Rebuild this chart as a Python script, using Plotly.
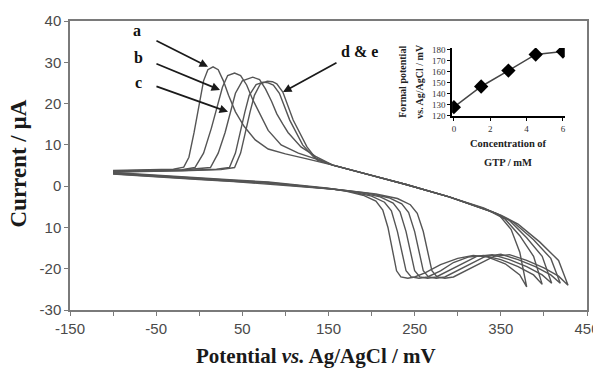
import plotly.graph_objects as go

# ---- main CV curves (potential mV, current uA) ----
a_x = [-100, -60, -30, -18, -12, -6, 0, 5, 10, 16, 22, 28, 34, 42, 52, 65, 80, 100, 125, 155, 200, 240, 290, 330, 348, 362, 372, 380,
       372, 355, 335, 318, 300, 280, 262, 250, 242, 234, 229, 225, 219, 213, 205, 190, 170, 150, 120, 80, 40, 0, -50, -100]
a_y = [3.8, 3.9, 4.1, 4.6, 7, 13, 20, 25.5, 28.2, 28.9, 28.2, 25.5, 22, 18, 14.5, 11.2, 9, 7.8, 6.6, 5.1, 2.6, 0.4, -2.6, -5.3, -7, -10.5, -16, -24.4,
       -21.5, -18.8, -17.2, -16.8, -17.5, -19, -21, -22, -22.3, -22, -20.5, -16, -10, -5.8, -3.6, -2.2, -1.2, -0.5, 0.2, 1.0, 1.5, 2.0, 2.6, 3.3]

b_x = [-100, -60, -20, -5, 5, 14, 22, 27, 33, 41, 48, 55, 62, 70, 80, 95, 115, 135, 155, 200, 240, 290, 335, 355, 372, 388, 398,
       388, 370, 350, 330, 312, 295, 280, 265, 255, 246, 240, 236, 230, 223, 215, 200, 175, 150, 120, 80, 40, 0, -50, -100]
b_y = [3.7, 3.8, 4.0, 4.5, 8, 14, 20, 24, 26.8, 27.4, 26.8, 24.5, 21, 17.5, 13.5, 10, 8, 6.6, 5.1, 2.6, 0.4, -2.6, -5.8, -8, -12, -17, -23.8,
       -21.5, -19.5, -17.8, -16.8, -17.2, -18.5, -20.5, -22, -22.3, -22, -20.5, -17, -11, -6, -3.9, -2.4, -1.3, -0.6, 0.1, 0.9, 1.4, 1.9, 2.5, 3.2]

c_x = [-100, -60, -20, 13, 22, 30, 36, 42, 50, 62, 70, 77, 84, 90, 97, 103, 118, 135, 155, 200, 240, 290, 340, 360, 380, 398, 409,
       398, 380, 360, 340, 322, 305, 290, 275, 265, 256, 250, 246, 240, 233, 225, 210, 185, 155, 120, 80, 40, 0, -50, -100]
c_y = [3.6, 3.7, 3.9, 4.5, 8, 13, 18, 22.5, 25.5, 26.4, 25.8, 23.5, 20.5, 17.5, 15, 13, 9.5, 7.2, 5.1, 2.6, 0.4, -2.6, -6.2, -8.3, -12.5, -17, -23.5,
       -21.5, -19.5, -17.8, -16.6, -17, -18.8, -20.5, -22, -22.3, -22, -20.5, -17, -11, -6.2, -4.1, -2.6, -1.5, -0.7, 0.0, 0.8, 1.3, 1.8, 2.4, 3.1]

d_x = [-100, -60, -20, 20, 35, 42, 48, 53, 58, 66, 74, 80, 86, 93, 105, 120, 133, 155, 200, 240, 290, 345, 365, 388, 408, 419,
       408, 390, 370, 350, 332, 315, 300, 285, 275, 266, 260, 256, 250, 243, 235, 220, 195, 160, 120, 80, 40, 0, -50, -100]
d_y = [3.5, 3.6, 3.8, 4.1, 4.5, 8, 13.6, 18, 22, 24.6, 25.2, 25.0, 24.5, 22.5, 16, 10, 7, 5.1, 2.6, 0.4, -2.6, -6.6, -8.8, -13, -17.5, -23.5,
       -21.5, -19.5, -17.8, -16.5, -17, -18.8, -20.5, -22, -22.3, -22, -20.5, -17, -11, -6.4, -4.3, -2.8, -1.7, -0.8, -0.1, 0.7, 1.2, 1.7, 2.3, 3.0]

e_x = [-100, -60, -20, 25, 41, 48, 54, 59, 64, 71, 79, 85, 90, 97, 109, 125, 137, 155, 200, 240, 290, 350, 370, 395, 417, 428,
       417, 400, 380, 360, 342, 325, 310, 295, 285, 276, 270, 266, 260, 253, 245, 230, 205, 165, 120, 80, 40, 0, -50, -100]
e_y = [3.4, 3.5, 3.7, 4.0, 4.5, 8, 13.6, 18, 22, 24.8, 25.4, 25.3, 24.8, 22.8, 16, 9.5, 6.3, 5.1, 2.6, 0.4, -2.6, -7, -9.2, -13.5, -18, -24,
       -21.8, -19.8, -18, -16.6, -17, -18.8, -20.5, -22, -22.3, -22, -20.5, -17, -11, -6.6, -4.5, -3.0, -1.9, -0.9, -0.2, 0.6, 1.1, 1.6, 2.2, 2.9]

curves = [(a_x, a_y), (b_x, b_y), (c_x, c_y), (d_x, d_y), (e_x, e_y)]

# ---- inset: formal potential vs GTP concentration ----
conc = [0, 1.5, 3, 4.5, 6]
formal = [127.6, 146.4, 160.9, 175.5, 178.2]

# ---- axis ticks ----
x_tickvals = [-150, -50, 50, 150, 250, 350, 450]
x_ticktext = ["-150", "-50", "50", "150", "250", "350", "450"]
y_tickvals = [40, 30, 20, 10, 0, -10, -20, -30]
y_ticktext = ["40", "30", "20", "10", "0", "10", "-20", "-30"]
in_x_ticks = [0, 2, 4, 6]
in_y_ticks = [120, 130, 140, 150, 160, 170, 180]

fig = go.Figure()
for cx, cy in curves:
    fig.add_trace(go.Scatter(x=cx, y=cy, mode="lines", line=dict(color="rgb(85,85,85)", width=1.4),
                             showlegend=False, hoverinfo="skip"))

fig.add_trace(go.Scatter(x=conc, y=formal, mode="lines+markers", xaxis="x2", yaxis="y2",
                         line=dict(color="rgb(70,70,70)", width=1.5),
                         marker=dict(symbol="diamond", size=11, color="black"),
                         showlegend=False, hoverinfo="skip"))

axis_col = "#7a7a7a"
tick_font = dict(family="Liberation Sans, Arial", size=15, color="#4a4a4a")
serif = "Liberation Serif, Times New Roman, serif"

fig.update_layout(
    width=593, height=372,
    margin=dict(l=70, r=6, t=21, b=62, autoexpand=False),
    paper_bgcolor="white", plot_bgcolor="white",
    xaxis=dict(range=[-150, 450], tickvals=x_tickvals, ticktext=x_ticktext, ticks="outside", ticklen=4,
               tickcolor=axis_col, showline=True, linecolor=axis_col, linewidth=1.5, mirror=True,
               showgrid=False, zeroline=False, tickfont=tick_font, ticklabeloverflow="allow", automargin=False,
               minor=dict(ticks="outside", tick0=-150, dtick=50, ticklen=4, tickcolor=axis_col)),
    yaxis=dict(range=[-30, 40], tickvals=y_tickvals, ticktext=y_ticktext, ticks="outside", ticklen=4,
               tickcolor=axis_col, showline=True, linecolor=axis_col, linewidth=1.5, mirror=True,
               showgrid=False, zeroline=False, tickfont=tick_font, automargin=False),
    xaxis2=dict(domain=[0.739, 0.957], anchor="y2", range=[-0.1, 6.1], tickvals=in_x_ticks,
                ticks="outside", ticklen=3, tickcolor="black", showline=True, linecolor="black", linewidth=2,
                showgrid=False, zeroline=False, automargin=False,
                tickfont=dict(family=serif, size=9, color="#333")),
    yaxis2=dict(domain=[0.671, 0.907], anchor="x2", range=[119.5, 181.5], tickvals=in_y_ticks,
                ticks="outside", ticklen=3, tickcolor="black", showline=True, linecolor="black", linewidth=1.5,
                showgrid=False, zeroline=False, automargin=False,
                tickfont=dict(family=serif, size=9, color="#333")),
)

anns = []
# axis titles
anns.append(dict(text="<b>Potential <i>vs.</i> Ag/AgCl / mV</b>", xref="paper", yref="paper", x=0.475, y=0,
                 yshift=-46, showarrow=False, font=dict(family=serif, size=21, color="#1a1a1a"),
                 xanchor="center", yanchor="middle"))
anns.append(dict(text="<b>Current / µA</b>", xref="paper", yref="paper", x=0, y=0.5, xshift=-52, yshift=2,
                 textangle=-90, showarrow=False, font=dict(family=serif, size=23, color="#1a1a1a"),
                 xanchor="center", yanchor="middle"))
# inset titles
in_font = dict(family=serif, size=10, color="#222")
anns.append(dict(text="<b>Formal potential</b>", xref="paper", yref="paper", x=0.739, y=0.79,
                 xshift=-49, textangle=-90, showarrow=False, font=in_font, xanchor="center", yanchor="middle"))
anns.append(dict(text="<b>vs. Ag/AgCl / mV</b>", xref="paper", yref="paper", x=0.739, y=0.79,
                 xshift=-32, textangle=-90, showarrow=False, font=in_font, xanchor="center", yanchor="middle"))
anns.append(dict(text="<b>Concentration of</b>", xref="paper", yref="paper", x=0.848, y=0.671,
                 yshift=-27, showarrow=False, font=dict(family=serif, size=10.5, color="#222"),
                 xanchor="center", yanchor="middle"))
anns.append(dict(text="<b>GTP / mM</b>", xref="paper", yref="paper", x=0.848, y=0.671,
                 yshift=-46, showarrow=False, font=dict(family=serif, size=10.5, color="#222"),
                 xanchor="center", yanchor="middle"))
# curve labels
lab_font = dict(family=serif, size=16, color="#111")
for txt, lx, ly in [("<b>a</b>", -72, 37.6), ("<b>b</b>", -71, 31.1), ("<b>c</b>", -71, 25.0), ("<b>d & e</b>", 186, 32.5)]:
    anns.append(dict(text=txt, x=lx, y=ly, xref="x", yref="y", showarrow=False, font=lab_font))
# arrows
for hx, hy, tx, ty in [(10.2, 28.9, -51.4, 35.4), (24.1, 23.3, -51.4, 29.8), (33.4, 18.0, -51.4, 24.3), (97.2, 22.8, 161.0, 30.1)]:
    anns.append(dict(text="", x=hx, y=hy, ax=tx, ay=ty, xref="x", yref="y", axref="x", ayref="y",
                     showarrow=True, arrowhead=2, arrowsize=1, arrowwidth=1.7, arrowcolor="#1a1a1a"))
fig.update_layout(annotations=anns)

fig.write_html("out.html")
